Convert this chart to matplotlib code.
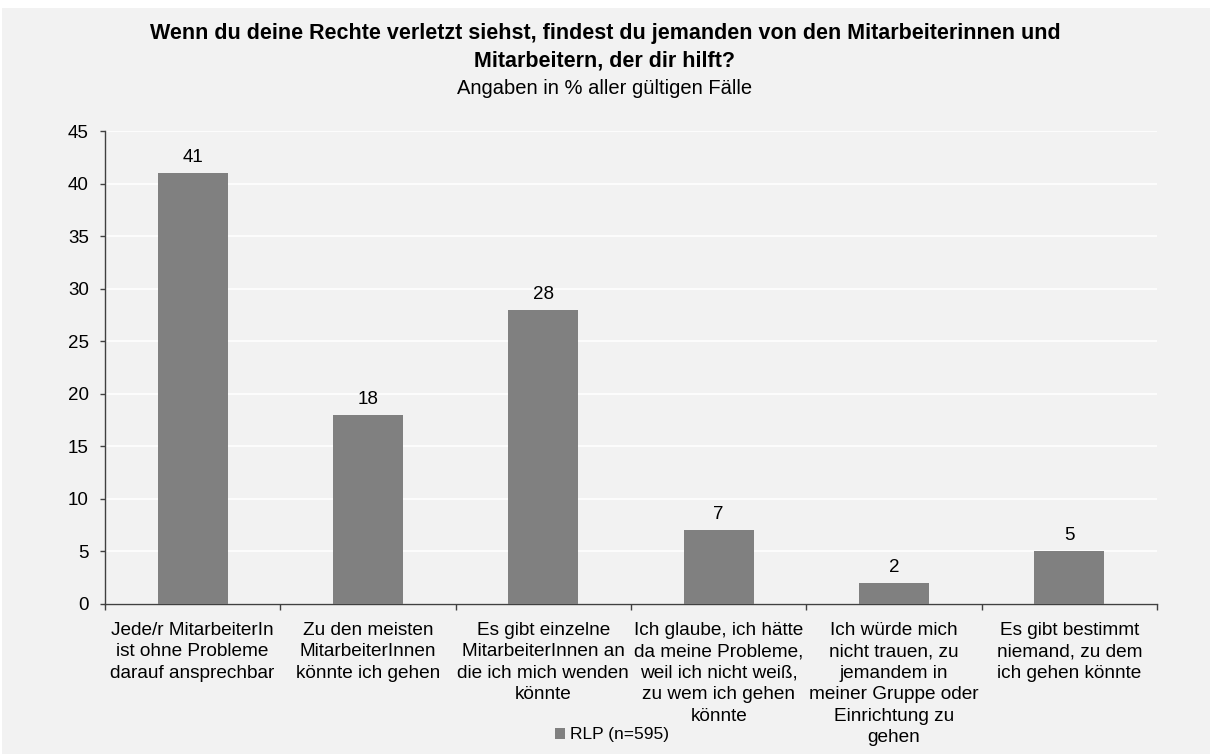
# Balkendiagramm: Ansprechpartner bei verletzten Rechten

import numpy as np
import matplotlib.pyplot as plt
from matplotlib.patches import Rectangle

plt.rcParams['font.family'] = ['Liberation Sans', 'DejaVu Sans']

kategorien = [
    'Jede/r MitarbeiterIn\nist ohne Probleme\ndarauf ansprechbar',
    'Zu den meisten\nMitarbeiterInnen\nkönnte ich gehen',
    'Es gibt einzelne\nMitarbeiterInnen an\ndie ich mich wenden\nkönnte',
    'Ich glaube, ich hätte\nda meine Probleme,\nweil ich nicht weiß,\nzu wem ich gehen\nkönnte',
    'Ich würde mich\nnicht trauen, zu\njemandem in\nmeiner Gruppe oder\nEinrichtung zu\ngehen',
    'Es gibt bestimmt\nniemand, zu dem\nich gehen könnte',
]
werte = [41, 18, 28, 7, 2, 5]
serie = 'RLP (n=595)'
titel_1 = 'Wenn du deine Rechte verletzt siehst, findest du jemanden von den Mitarbeiterinnen und'
titel_2 = 'Mitarbeitern, der dir hilft?'
untertitel = 'Angaben in % aller gültigen Fälle'

bg = '#f2f2f2'
W, H = 1210, 754
fig = plt.figure(figsize=(W / 100, H / 100), dpi=100, facecolor='white')
fig.patches.append(Rectangle((2 / W, 0), 1, (H - 8) / H, transform=fig.transFigure,
                             facecolor=bg, edgecolor='none', zorder=-10))

ax = fig.add_axes([105 / W, (H - 604) / H, 1052 / W, 473 / H])
ax.set_facecolor(bg)

x = np.arange(len(werte))
bars = ax.bar(x, werte, width=0.4, color='#808080', label=serie, zorder=3)
for xi, v in zip(x, werte):
    ax.annotate(str(v), (xi, v), xytext=(0, 8), textcoords='offset points',
                ha='center', va='baseline', fontsize=13.5)

ax.set_xlim(-0.5, len(werte) - 0.5)
ax.set_ylim(0, 45)
ax.set_yticks(np.arange(0, 46, 5))
ax.yaxis.grid(True, color='white', linewidth=1.2, zorder=0)
ax.set_axisbelow(True)

ax.set_xticks(x)
ax.set_xticklabels(kategorien, fontsize=13.7, linespacing=1.34)
ax.tick_params(axis='x', which='major', length=0, pad=13)
ax.set_xticks(np.arange(-0.5, len(werte)), minor=True)
ax.tick_params(axis='x', which='minor', length=4.5, width=1, color='#404040')
ax.tick_params(axis='y', labelsize=13.5, length=3.6, width=1, color='#404040', pad=8)

for s in ['top', 'right']:
    ax.spines[s].set_visible(False)
for s in ['left', 'bottom']:
    ax.spines[s].set_color('#404040')
    ax.spines[s].set_linewidth(1)

fig.text(0.5, 1 - 38.7 / H, titel_1, ha='center', va='baseline', fontsize=15.5, fontweight='bold')
fig.text(0.5, 1 - 66.7 / H, titel_2, ha='center', va='baseline', fontsize=15.5, fontweight='bold')
fig.text(0.5, 1 - 94 / H, untertitel, ha='center', va='baseline', fontsize=14.5)

fig.legend(handles=[bars], labels=[serie], loc='center', bbox_to_anchor=(612 / W, 1 - 735 / H),
           frameon=False, fontsize=12.5, handlelength=0.55, handleheight=0.55, handletextpad=0.3)

fig.savefig('out.png', dpi=100, facecolor=fig.get_facecolor())
